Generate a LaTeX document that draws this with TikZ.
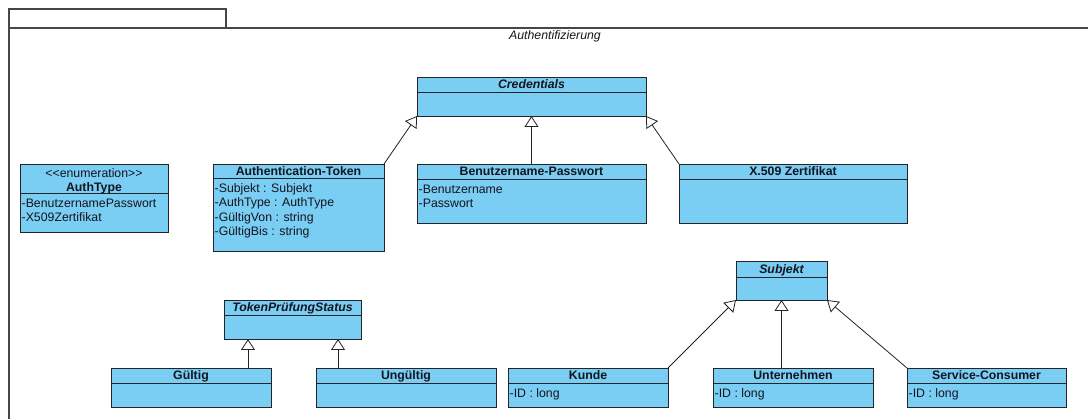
\documentclass[tikz,border=0pt]{standalone}
\usepackage{fontspec}
\setmainfont{Liberation Sans}
\usetikzlibrary{arrows.meta}
\definecolor{clsfill}{RGB}{122,206,244}
\definecolor{clsline}{RGB}{35,35,40}
\definecolor{framecol}{RGB}{70,70,70}
\definecolor{txt}{RGB}{20,20,30}

% class box: name, x1, y1, x2, y2, separator y, title
\newcommand\umlclass[7]{%
  \node[cls, minimum width={(#4-#2)*1pt}, minimum height={(#5-#3)*1pt}]
    (#1) at ({(#2+#4)/2},{(#3+#5)/2}) {};
  \draw[sepline] (#2,#6) -- (#4,#6);
  \node[ctitle] (#1-title) at ({(#2+#4)/2},{(#3+#6)/2+4.3}) {#7};
}
% attribute lines below the separator: name, x1, separator y, list
\newcommand\umlattrs[4]{%
  \foreach \t [count=\i] in {#4} {
    \node[cattr] (#1-attr\i) at ({#2+1.5},{#3+14.4*\i-0.1}) {\t};
  }
}

\begin{document}
\begin{tikzpicture}[x=1pt,y=-1pt,
  cls/.style={rectangle, draw=clsline, fill=clsfill, line width=0.9pt, inner sep=0pt, outer sep=0pt},
  sepline/.style={draw=clsline, line width=0.8pt},
  ctitle/.style={font=\fontsize{12.3}{14}\selectfont\bfseries, text=txt, inner sep=0pt, anchor=base},
  cattr/.style={font=\fontsize{12.3}{14}\selectfont, text=txt, inner sep=0pt, anchor=base west},
  frame/.style={draw=framecol, line width=1.1pt},
  gen/.style={draw=clsline, line width=0.8pt, -{Triangle[length=11pt,width=14pt,fill=white]}},
]
\useasboundingbox (0,0) rectangle (1088,419);

% package frame with its tab
\draw[frame] (9,419) -- (9,28) -- (1088,28);
\draw[frame] (9,28) -- (9,9) -- (226,9) -- (226,28);
\node[font=\fontsize{12.3}{14}\selectfont\itshape, text=txt, inner sep=0pt, anchor=base] (pkg) at (555,40) {Authentifizierung};

% enumeration
\node[cls, minimum width=148pt, minimum height=68pt] (auth) at (94,198) {};
\draw[sepline] (20,193) -- (168,193);
\node[font=\fontsize{12.3}{14}\selectfont, text=txt, inner sep=0pt, anchor=base] (auth-st) at (94,177.3) {<\kern0pt<enumeration>\kern0pt>};
\node[ctitle] (auth-title) at (94,191.5) {AuthType};
\umlattrs{auth}{20}{193}{-BenutzernamePasswort, -X509Zertifikat}

% credentials
\umlclass{cred}{417}{77}{646}{116}{92}{\itshape Credentials}
\umlclass{tok}{213}{164}{384}{251}{178}{Authentication-Token}
\umlattrs{tok}{213}{178}{-Subjekt : Subjekt, -AuthType : AuthType, -GültigVon : string, -GültigBis : string}
\umlclass{bp}{417}{164}{646}{223}{179}{Benutzername-Passwort}
\umlattrs{bp}{417}{179}{-Benutzername, -Passwort}
\umlclass{xz}{679}{164}{907}{223}{179}{X.509 Zertifikat}

% token status
\umlclass{tps}{224}{300}{361}{339}{315}{\itshape TokenPrüfungStatus}
\umlclass{gul}{111}{368}{271}{407}{383}{Gültig}
\umlclass{ung}{316}{368}{496}{407}{383}{Ungültig}

% subjects
\umlclass{sub}{736}{261}{827}{300}{277}{\itshape Subjekt}
\umlclass{kun}{508}{368}{668}{407}{383}{Kunde}
\umlattrs{kun}{508}{383}{-ID : long}
\umlclass{unt}{713}{368}{873}{407}{383}{Unternehmen}
\umlattrs{unt}{713}{383}{-ID : long}
\umlclass{svc}{907}{368}{1066}{407}{383}{Service-Consumer}
\umlattrs{svc}{907}{383}{-ID : long}

% generalisations
\draw[gen] (tok.north east) -- (cred.south west);
\draw[gen] (bp.north) -- (bp.north |- cred.south);
\draw[gen] (xz.north west) -- (cred.south east);
\coordinate (gulA) at (248,368);
\coordinate (ungA) at (338,368);
\draw[gen] (gulA) -- (gulA |- tps.south);
\draw[gen] (ungA) -- (ungA |- tps.south);
\draw[gen] (kun.north east) -- (sub.south west);
\draw[gen] (sub.south |- unt.north) -- (sub.south);
\draw[gen] (svc.north west) -- (sub.south east);
\end{tikzpicture}
\end{document}
